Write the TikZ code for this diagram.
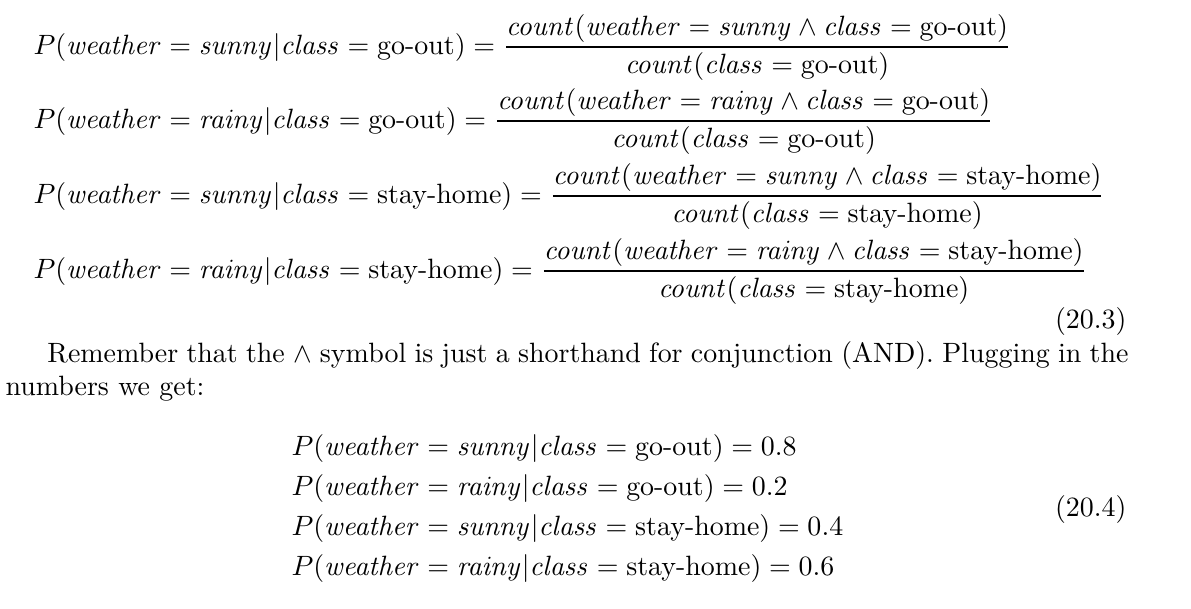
\documentclass[tikz,border=0pt]{standalone}
\usepackage{amsmath,amssymb}
\usepackage{tikz}
\usetikzlibrary{positioning, calc}

\newcommand{\cnt}[1]{\mathit{count}(#1)}
\newcommand{\wx}[1]{\mathit{weather} = \mathit{#1}}
\newcommand{\cls}[1]{\mathit{class} = \text{#1}}

\begin{document}
\begin{tikzpicture}[x=0.358pt,y=-0.358pt,inner sep=0pt,
    eqn/.style={anchor=base west},
    tag/.style={anchor=base east}]
    \useasboundingbox (0,0) rectangle (1191,609);

    % the four ratios
    \node[eqn] (P1) at (33,54) {$P(\wx{sunny}|\cls{go-out}) = \dfrac{\cnt{\wx{sunny}\wedge\cls{go-out}}}{\cnt{\cls{go-out}}}$};
    \node[eqn] (P2) at (33,128) {$P(\wx{rainy}|\cls{go-out}) = \dfrac{\cnt{\wx{rainy}\wedge\cls{go-out}}}{\cnt{\cls{go-out}}}$};
    \node[eqn] (P3) at (33,203) {$P(\wx{sunny}|\cls{stay-home}) = \dfrac{\cnt{\wx{sunny}\wedge\cls{stay-home}}}{\cnt{\cls{stay-home}}}$};
    \node[eqn] (P4) at (33,278) {$P(\wx{rainy}|\cls{stay-home}) = \dfrac{\cnt{\wx{rainy}\wedge\cls{stay-home}}}{\cnt{\cls{stay-home}}}$};
    \node[tag] (T1) at (1127,328) {(20.3)};

    % paragraph
    \node[anchor=base west,text width=402pt,align=justify] (txt) at (5,362)
        {\hspace*{15pt}Remember that the $\wedge$ symbol is just a shorthand for conjunction (AND). Plugging in the\linebreak numbers we get:};

    % the values
    \node[eqn] (R1) at (291,455) {$P(\wx{sunny}|\cls{go-out}) = 0.8$};
    \node[eqn] (R2) at (291,495) {$P(\wx{rainy}|\cls{go-out}) = 0.2$};
    \node[eqn] (R3) at (291,535) {$P(\wx{sunny}|\cls{stay-home}) = 0.4$};
    \node[eqn] (R4) at (291,575) {$P(\wx{rainy}|\cls{stay-home}) = 0.6$};
    \node[tag] (T2) at (1127,516) {(20.4)};
\end{tikzpicture}
\end{document}
